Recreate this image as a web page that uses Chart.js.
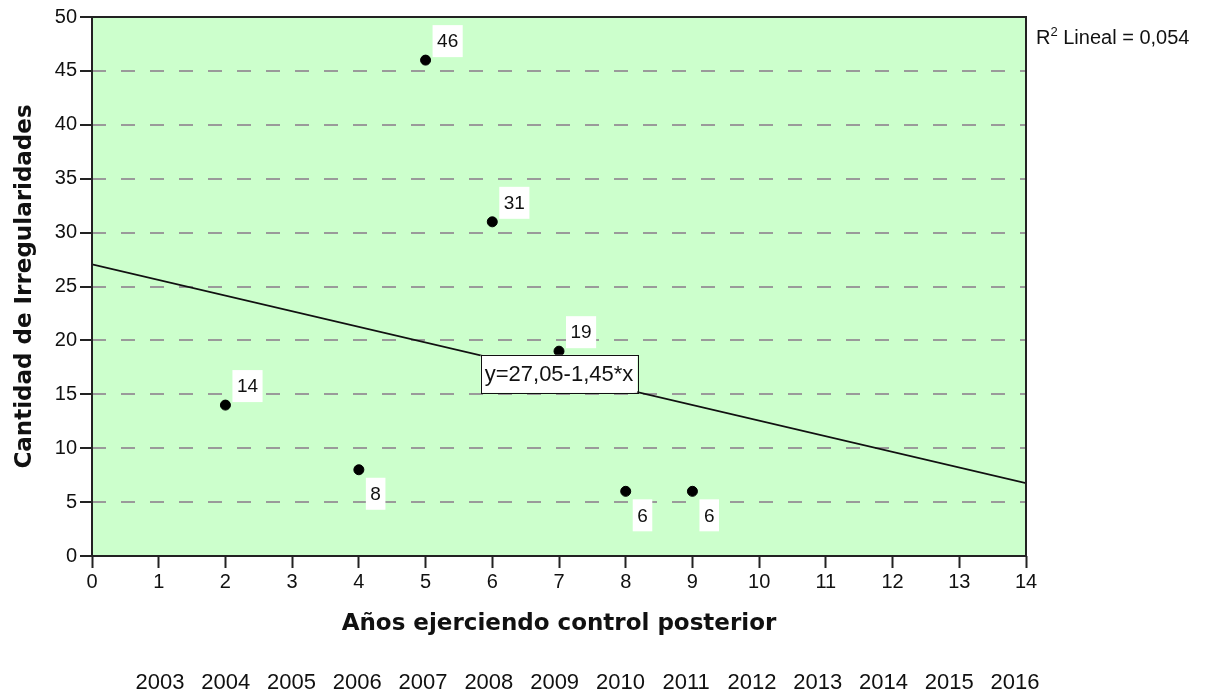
<!DOCTYPE html>
<html>
<head>
<meta charset="utf-8">
<script src="https://cdn.jsdelivr.net/npm/chart.js@4/dist/chart.umd.min.js"></script>
<style>
  html, body { margin: 0; padding: 0; background: #ffffff; }
  #wrap { width: 1205px; height: 693px; }
</style>
</head>
<body>
<div id="wrap"><canvas id="c" width="1205" height="693"></canvas></div>
<script>
// ---- data ----
const yearsExercising = [2, 4, 5, 6, 7, 8, 9];
const irregularities = [14, 8, 46, 31, 19, 6, 6];
const labelSide = ['above', 'below', 'above', 'above', 'above', 'below', 'below'];
const fitIntercept = 27.05;
const fitSlope = -1.45;
const fitRange = [0, 14];
const fitLabel = 'y=27,05-1,45*x';
const r2Value = '0,054';
const yearTicks = [2003, 2004, 2005, 2006, 2007, 2008, 2009, 2010, 2011, 2012, 2013, 2014, 2015, 2016];
const xTitle = 'Años ejerciendo control posterior';
const yTitle = 'Cantidad de Irregularidades';

const FONT = '"Liberation Sans", Arial, sans-serif';
const TITLE_FONT = '"DejaVu Sans", Verdana, sans-serif';

const scatterData = yearsExercising.map((x, i) => ({ x: x, y: irregularities[i] }));
const fitData = fitRange.map(x => ({ x: x, y: fitIntercept + fitSlope * x }));

const plotDecor = {
  id: 'plotDecor',
  beforeDraw(chart) {
    const { ctx, chartArea: a } = chart;
    ctx.save();
    ctx.fillStyle = '#ccffcc';
    ctx.fillRect(a.left, a.top, a.right - a.left, a.bottom - a.top);
    ctx.restore();
  },
  afterDraw(chart) {
    const { ctx, chartArea: a, scales } = chart;
    const xs = scales.x, ys = scales.y;
    ctx.save();
    // frame
    ctx.strokeStyle = '#222';
    ctx.lineWidth = 2;
    ctx.strokeRect(a.left, a.top, a.right - a.left, a.bottom - a.top);

    // point labels
    ctx.font = '19px ' + FONT;
    ctx.textAlign = 'center';
    ctx.textBaseline = 'middle';
    yearsExercising.forEach((xv, i) => {
      const px = xs.getPixelForValue(xv);
      const py = ys.getPixelForValue(irregularities[i]);
      const txt = String(irregularities[i]);
      const w = ctx.measureText(txt).width + 9;
      const h = 32;
      const bx = px + 7;
      const by = labelSide[i] === 'above' ? py - 3 - h : py + 8;
      ctx.fillStyle = '#ffffff';
      ctx.fillRect(bx, by, w, h);
      ctx.fillStyle = '#111';
      ctx.fillText(txt, bx + w / 2, by + h / 2 + 1);
    });

    // fit label
    const fx = 7;
    const cx = xs.getPixelForValue(fx);
    const cy = ys.getPixelForValue(fitIntercept + fitSlope * fx);
    ctx.font = '22px ' + FONT;
    const fw = ctx.measureText(fitLabel).width + 8;
    const fh = 38;
    ctx.fillStyle = '#ffffff';
    ctx.fillRect(cx - fw / 2, cy - fh / 2, fw, fh);
    ctx.strokeStyle = '#111';
    ctx.lineWidth = 1;
    ctx.strokeRect(Math.round(cx - fw / 2) + 0.5, Math.round(cy - fh / 2) + 0.5, Math.round(fw), fh);
    ctx.fillStyle = '#111';
    ctx.fillText(fitLabel, cx, cy + 1);

    // R2 text
    ctx.textAlign = 'left';
    ctx.textBaseline = 'alphabetic';
    ctx.font = '20px ' + FONT;
    let tx = a.right + 10;
    const ty = 44;
    ctx.fillText('R', tx, ty);
    tx += ctx.measureText('R').width;
    ctx.font = '13px ' + FONT;
    ctx.fillText('2', tx, ty - 8);
    tx += ctx.measureText('2').width;
    ctx.font = '20px ' + FONT;
    ctx.fillText(' Lineal = ' + r2Value, tx, ty);
    ctx.restore();
  }
};

new Chart(document.getElementById('c'), {
  type: 'scatter',
  data: {
    datasets: [
      {
        type: 'line',
        data: fitData,
        borderColor: '#111',
        borderWidth: 1.7,
        pointRadius: 0,
        fill: false,
        order: 2
      },
      {
        type: 'scatter',
        data: scatterData,
        backgroundColor: '#000',
        borderColor: '#000',
        pointRadius: 5,
        order: 1
      }
    ]
  },
  options: {
    responsive: false,
    animation: false,
    events: [],
    layout: { padding: { top: 17, right: 179, bottom: 0, left: 0 } },
    plugins: { legend: { display: false }, tooltip: { enabled: false } },
    scales: {
      x: {
        type: 'linear',
        position: 'bottom',
        min: 0, max: 14,
        weight: 0,
        ticks: { stepSize: 1, color: '#111', font: { family: FONT, size: 20 }, padding: 2, maxRotation: 0 },
        grid: { drawOnChartArea: false, tickLength: 12, tickColor: '#222', tickWidth: 2 },
        border: { display: false },
        title: { display: true, text: xTitle, color: '#111', font: { family: TITLE_FONT, size: 23, weight: 'bold' }, padding: { top: 4, bottom: 18 } },
        afterFit(s) { s.height = 100; }
      },
      x2: {
        type: 'linear',
        position: 'bottom',
        min: 2001.966, max: 2016.167,
        weight: 1,
        afterBuildTicks(s) { s.ticks = yearTicks.map(v => ({ value: v })); },
        ticks: { color: '#111', font: { family: FONT, size: 22 }, padding: 14, maxRotation: 0, autoSkip: false, callback: v => String(v) },
        grid: { display: false, drawTicks: false },
        border: { display: false },
        afterFit(s) { s.height = 37; }
      },
      y: {
        type: 'linear',
        min: 0, max: 50,
        ticks: { stepSize: 5, color: '#111', font: { family: FONT, size: 20 }, padding: 3 },
        grid: { color: '#9a9a9a', lineWidth: 2, tickLength: 12, tickColor: '#222', tickWidth: 2 },
        border: { display: false, dash: [14, 15] },
        title: { display: true, text: yTitle, color: '#111', font: { family: TITLE_FONT, size: 23, weight: 'bold' }, padding: { top: 11, bottom: 4 } },
        afterFit(s) { s.width = 92; }
      }
    }
  },
  plugins: [plotDecor]
});
</script>
</body>
</html>
